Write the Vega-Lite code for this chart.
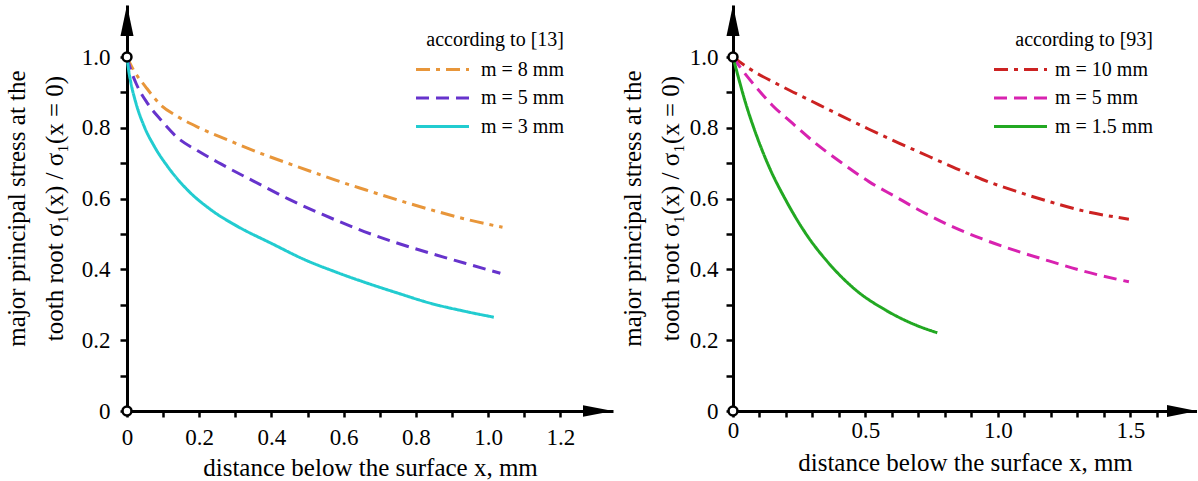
{
  "$schema": "https://vega.github.io/schema/vega-lite/v6.json",
  "padding": {"left": 4, "top": 5, "right": 0, "bottom": 0},
  "background": "white",
  "spacing": 7,
  "datasets": {
    "left": [
      {"m": "m = 8 mm", "x": 0, "y": 1.0},
      {"m": "m = 8 mm", "x": 0.02, "y": 0.96},
      {"m": "m = 8 mm", "x": 0.05, "y": 0.918},
      {"m": "m = 8 mm", "x": 0.09, "y": 0.868},
      {"m": "m = 8 mm", "x": 0.14, "y": 0.832},
      {"m": "m = 8 mm", "x": 0.2, "y": 0.8},
      {"m": "m = 8 mm", "x": 0.29, "y": 0.761},
      {"m": "m = 8 mm", "x": 0.37, "y": 0.728},
      {"m": "m = 8 mm", "x": 0.445, "y": 0.7},
      {"m": "m = 8 mm", "x": 0.52, "y": 0.673},
      {"m": "m = 8 mm", "x": 0.59, "y": 0.648},
      {"m": "m = 8 mm", "x": 0.66, "y": 0.625},
      {"m": "m = 8 mm", "x": 0.75, "y": 0.596},
      {"m": "m = 8 mm", "x": 0.84, "y": 0.569},
      {"m": "m = 8 mm", "x": 0.93, "y": 0.544},
      {"m": "m = 8 mm", "x": 1.04, "y": 0.519},
      {"m": "m = 5 mm", "x": 0, "y": 1.0},
      {"m": "m = 5 mm", "x": 0.01, "y": 0.965},
      {"m": "m = 5 mm", "x": 0.025, "y": 0.926},
      {"m": "m = 5 mm", "x": 0.057, "y": 0.869},
      {"m": "m = 5 mm", "x": 0.094, "y": 0.822},
      {"m": "m = 5 mm", "x": 0.14, "y": 0.772},
      {"m": "m = 5 mm", "x": 0.196, "y": 0.735},
      {"m": "m = 5 mm", "x": 0.26, "y": 0.698},
      {"m": "m = 5 mm", "x": 0.353, "y": 0.648},
      {"m": "m = 5 mm", "x": 0.445, "y": 0.6},
      {"m": "m = 5 mm", "x": 0.54, "y": 0.556},
      {"m": "m = 5 mm", "x": 0.657, "y": 0.507},
      {"m": "m = 5 mm", "x": 0.75, "y": 0.474},
      {"m": "m = 5 mm", "x": 0.842, "y": 0.445},
      {"m": "m = 5 mm", "x": 0.934, "y": 0.418},
      {"m": "m = 5 mm", "x": 1.034, "y": 0.389},
      {"m": "m = 3 mm", "x": 0, "y": 1.0},
      {"m": "m = 3 mm", "x": 0.005, "y": 0.96},
      {"m": "m = 3 mm", "x": 0.011, "y": 0.926},
      {"m": "m = 3 mm", "x": 0.025, "y": 0.869},
      {"m": "m = 3 mm", "x": 0.048, "y": 0.803},
      {"m": "m = 3 mm", "x": 0.076, "y": 0.747},
      {"m": "m = 3 mm", "x": 0.113, "y": 0.69},
      {"m": "m = 3 mm", "x": 0.168, "y": 0.624},
      {"m": "m = 3 mm", "x": 0.233, "y": 0.568},
      {"m": "m = 3 mm", "x": 0.307, "y": 0.521},
      {"m": "m = 3 mm", "x": 0.399, "y": 0.474},
      {"m": "m = 3 mm", "x": 0.491, "y": 0.428},
      {"m": "m = 3 mm", "x": 0.58, "y": 0.392},
      {"m": "m = 3 mm", "x": 0.657, "y": 0.364},
      {"m": "m = 3 mm", "x": 0.75, "y": 0.333},
      {"m": "m = 3 mm", "x": 0.842, "y": 0.304},
      {"m": "m = 3 mm", "x": 0.934, "y": 0.282},
      {"m": "m = 3 mm", "x": 1.016, "y": 0.265}
    ],
    "right": [
      {"m": "m = 10 mm", "x": 0, "y": 1.0},
      {"m": "m = 10 mm", "x": 0.06, "y": 0.968},
      {"m": "m = 10 mm", "x": 0.174, "y": 0.921},
      {"m": "m = 10 mm", "x": 0.287, "y": 0.879},
      {"m": "m = 10 mm", "x": 0.4, "y": 0.837},
      {"m": "m = 10 mm", "x": 0.513, "y": 0.796},
      {"m": "m = 10 mm", "x": 0.626, "y": 0.757},
      {"m": "m = 10 mm", "x": 0.74, "y": 0.719},
      {"m": "m = 10 mm", "x": 0.83, "y": 0.689},
      {"m": "m = 10 mm", "x": 0.941, "y": 0.654},
      {"m": "m = 10 mm", "x": 1.067, "y": 0.621},
      {"m": "m = 10 mm", "x": 1.192, "y": 0.592},
      {"m": "m = 10 mm", "x": 1.318, "y": 0.566},
      {"m": "m = 10 mm", "x": 1.494, "y": 0.542},
      {"m": "m = 5 mm", "x": 0, "y": 1.0},
      {"m": "m = 5 mm", "x": 0.035, "y": 0.963},
      {"m": "m = 5 mm", "x": 0.086, "y": 0.916},
      {"m": "m = 5 mm", "x": 0.148, "y": 0.864},
      {"m": "m = 5 mm", "x": 0.224, "y": 0.813},
      {"m": "m = 5 mm", "x": 0.312, "y": 0.756},
      {"m": "m = 5 mm", "x": 0.412, "y": 0.7},
      {"m": "m = 5 mm", "x": 0.513, "y": 0.648},
      {"m": "m = 5 mm", "x": 0.614, "y": 0.605},
      {"m": "m = 5 mm", "x": 0.714, "y": 0.563},
      {"m": "m = 5 mm", "x": 0.83, "y": 0.52},
      {"m": "m = 5 mm", "x": 0.941, "y": 0.486},
      {"m": "m = 5 mm", "x": 1.067, "y": 0.453},
      {"m": "m = 5 mm", "x": 1.192, "y": 0.424},
      {"m": "m = 5 mm", "x": 1.318, "y": 0.396},
      {"m": "m = 5 mm", "x": 1.494, "y": 0.365},
      {"m": "m = 1.5 mm", "x": 0, "y": 1.0},
      {"m": "m = 1.5 mm", "x": 0.023, "y": 0.935},
      {"m": "m = 1.5 mm", "x": 0.048, "y": 0.869},
      {"m": "m = 1.5 mm", "x": 0.086, "y": 0.784},
      {"m": "m = 1.5 mm", "x": 0.136, "y": 0.69},
      {"m": "m = 1.5 mm", "x": 0.199, "y": 0.596},
      {"m": "m = 1.5 mm", "x": 0.274, "y": 0.502},
      {"m": "m = 1.5 mm", "x": 0.362, "y": 0.417},
      {"m": "m = 1.5 mm", "x": 0.463, "y": 0.342},
      {"m": "m = 1.5 mm", "x": 0.576, "y": 0.285},
      {"m": "m = 1.5 mm", "x": 0.689, "y": 0.243},
      {"m": "m = 1.5 mm", "x": 0.771, "y": 0.221}
    ]
  },
  "hconcat": [
    {
      "width": 486,
      "height": 406,
      "layer": [
        {
          "data": {"name": "left"},
          "mark": {"type": "line", "strokeWidth": 3, "interpolate": "monotone"},
          "encoding": {
            "x": {"field": "x", "type": "quantitative", "scale": {"domain": [0, 1.346], "nice": false},
              "axis": {"values": [0, 0.1, 0.2, 0.3, 0.4, 0.5, 0.6, 0.7, 0.8, 0.9, 1.0, 1.1, 1.2], "tickCount": 40, "tickSize": 6, "labelPadding": 9, "labelOverlap": false,
                "labelExpr": "datum.value == 0 ? '0' : (round(datum.value * 10) % 2 == 0 ? format(datum.value, '.1f') : '')",
                "title": "distance below the surface x, mm", "titlePadding": 6}},
            "y": {"field": "y", "type": "quantitative", "scale": {"domain": [0, 1.147], "nice": false},
              "axis": {"values": [0, 0.1, 0.2, 0.3, 0.4, 0.5, 0.6, 0.7, 0.8, 0.9, 1.0], "tickCount": 40, "tickSize": 7, "labelPadding": 10, "labelOverlap": false,
                "labelExpr": "datum.value == 0 ? '0' : (round(datum.value * 10) % 2 == 0 ? format(datum.value, '.1f') : '')",
                "title": ["major principal stress at the", "tooth root σ₁(x) / σ₁(x = 0)"], "titlePadding": 14}},
            "color": {"field": "m", "type": "nominal",
              "scale": {"domain": ["m = 8 mm", "m = 5 mm", "m = 3 mm"], "range": ["#E8963A", "#6633CC", "#22CCD0"]},
              "legend": {"title": "according to [13]", "orient": "none", "legendX": 289, "legendY": 25}},
            "strokeDash": {"field": "m", "type": "nominal",
              "scale": {"domain": ["m = 8 mm", "m = 5 mm", "m = 3 mm"], "range": [[14, 6, 4, 6], [13, 7], [1, 0]]},
              "legend": {"title": "according to [13]", "orient": "none", "legendX": 289, "legendY": 25}}
          }
        },
        {
          "data": {"values": [{}]},
          "mark": {"type": "point", "shape": "M0,0L-1,-0.19L-1,0.19Z", "filled": true, "color": "black", "opacity": 1, "size": 3600},
          "encoding": {"x": {"datum": 1.346}, "y": {"datum": 0}}
        },
        {
          "data": {"values": [{}]},
          "mark": {"type": "point", "shape": "M0,0L-0.21,1L0.21,1Z", "filled": true, "color": "black", "opacity": 1, "size": 3844},
          "encoding": {"x": {"datum": 0}, "y": {"datum": 1.147}}
        },
        {
          "data": {"values": [{}]},
          "mark": {"type": "point", "shape": "circle", "filled": true, "fill": "white", "stroke": "black", "strokeWidth": 2.5, "opacity": 1, "size": 80},
          "encoding": {"x": {"datum": 0}, "y": {"datum": 0}}
        },
        {
          "data": {"values": [{}]},
          "mark": {"type": "point", "shape": "circle", "filled": true, "fill": "white", "stroke": "black", "strokeWidth": 2.5, "opacity": 1, "size": 80},
          "encoding": {"x": {"datum": 0}, "y": {"datum": 1}}
        }
      ]
    },
    {
      "width": 464,
      "height": 406,
      "layer": [
        {
          "data": {"name": "right"},
          "mark": {"type": "line", "strokeWidth": 3, "interpolate": "monotone"},
          "encoding": {
            "x": {"field": "x", "type": "quantitative", "scale": {"domain": [0, 1.751], "nice": false},
              "axis": {"values": [0, 0.1, 0.2, 0.3, 0.4, 0.5, 0.6, 0.7, 0.8, 0.9, 1.0, 1.1, 1.2, 1.3, 1.4, 1.5, 1.6], "tickCount": 40, "tickSize": 6, "labelPadding": 2, "labelOverlap": false,
                "labelExpr": "datum.value == 0 ? '0' : (round(datum.value * 10) % 5 == 0 ? format(datum.value, '.1f') : '')",
                "title": "distance below the surface x, mm", "titlePadding": 8}},
            "y": {"field": "y", "type": "quantitative", "scale": {"domain": [0, 1.147], "nice": false},
              "axis": {"values": [0, 0.1, 0.2, 0.3, 0.4, 0.5, 0.6, 0.7, 0.8, 0.9, 1.0], "tickCount": 40, "tickSize": 7, "labelPadding": 8, "labelOverlap": false,
                "labelExpr": "datum.value == 0 ? '0' : (round(datum.value * 10) % 2 == 0 ? format(datum.value, '.1f') : '')",
                "title": ["major principal stress at the", "tooth root σ₁(x) / σ₁(x = 0)"], "titlePadding": 6}},
            "color": {"field": "m", "type": "nominal",
              "scale": {"domain": ["m = 10 mm", "m = 5 mm", "m = 1.5 mm"], "range": ["#CC2222", "#D822B0", "#22A822"]},
              "legend": {"title": "according to [93]", "orient": "none", "legendX": 261, "legendY": 25, "labelOffset": 23}},
            "strokeDash": {"field": "m", "type": "nominal",
              "scale": {"domain": ["m = 10 mm", "m = 5 mm", "m = 1.5 mm"], "range": [[14, 6, 4, 6], [13, 7], [1, 0]]},
              "legend": {"title": "according to [93]", "orient": "none", "legendX": 261, "legendY": 25, "labelOffset": 23}}
          }
        },
        {
          "data": {"values": [{}]},
          "mark": {"type": "point", "shape": "M0,0L-1,-0.2L-1,0.2Z", "filled": true, "color": "black", "opacity": 1, "size": 3600},
          "encoding": {"x": {"datum": 1.751}, "y": {"datum": 0}}
        },
        {
          "data": {"values": [{}]},
          "mark": {"type": "point", "shape": "M0,0L-0.21,1L0.21,1Z", "filled": true, "color": "black", "opacity": 1, "size": 3844},
          "encoding": {"x": {"datum": 0}, "y": {"datum": 1.147}}
        },
        {
          "data": {"values": [{}]},
          "mark": {"type": "point", "shape": "circle", "filled": true, "fill": "white", "stroke": "black", "strokeWidth": 2.5, "opacity": 1, "size": 80},
          "encoding": {"x": {"datum": 0}, "y": {"datum": 0}}
        },
        {
          "data": {"values": [{}]},
          "mark": {"type": "point", "shape": "circle", "filled": true, "fill": "white", "stroke": "black", "strokeWidth": 2.5, "opacity": 1, "size": 80},
          "encoding": {"x": {"datum": 0}, "y": {"datum": 1}}
        }
      ]
    }
  ],
  "resolve": {"scale": {"x": "independent", "y": "independent", "color": "independent", "strokeDash": "independent"}, "legend": {"color": "independent", "strokeDash": "independent"}},
  "config": {
    "view": {"stroke": null},
    "font": "Liberation Serif",
    "axis": {
      "grid": false, "domainColor": "black", "domainWidth": 3, "tickColor": "black", "tickWidth": 2.5,
      "labelFont": "Liberation Serif", "labelFontSize": 23, "labelColor": "black", "labelOverlap": false, "labelFlush": false,
      "titleFont": "Liberation Serif", "titleFontSize": 25, "titleFontWeight": "normal", "titleColor": "black", "titleLineHeight": 38
    },
    "legend": {
      "titleFont": "Liberation Serif", "titleFontSize": 20, "titleFontWeight": "normal", "titleColor": "black", "titleAnchor": "end", "titlePadding": 8,
      "labelFont": "Liberation Serif", "labelFontSize": 20, "labelColor": "black",
      "symbolType": "M-2.65,0L2.65,0", "symbolSize": 400, "symbolStrokeWidth": 3, "symbolOffset": 15, "labelOffset": 27, "rowPadding": 6.5
    }
  }
}
